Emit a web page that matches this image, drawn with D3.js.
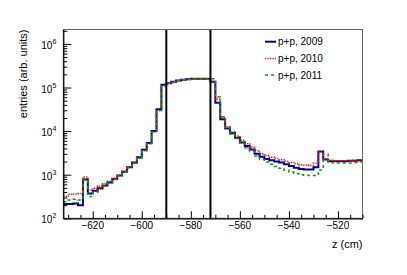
<!DOCTYPE html>
<html>
<head>
<meta charset="utf-8">
<script src="https://cdn.jsdelivr.net/npm/d3@7"></script>
<style>
  body { margin: 0; background: #fff; }
  svg { display: block; font-family: "Liberation Sans", Arial, Helvetica, sans-serif; }
</style>
</head>
<body>
<div id="chart"></div>
<script>
// histogram binning: 2 cm bins starting at z = -632 cm
const bin_start = -632;
const bin_width = 2;

// entries per bin
const pp2009 = [
  214, 214, 219, 200, 776, 372, 427, 490, 562, 661,
  794, 955, 1175, 1479, 1905, 2512, 3715, 5370, 10000, 31600,
  115000, 126000, 135000, 145000, 151000, 155000, 158000, 158000, 158000, 158000,
  135000, 44700, 18600, 11500, 8900, 7080, 5500, 4570, 3800, 3020,
  2570, 2290, 2140, 2000, 1905, 1740, 1585, 1445, 1350, 1320,
  1320, 1480, 3390, 2240, 2040, 2040, 2040, 2040, 2090, 2090,
  2140
];

const pp2010 = [
  316, 355, 363, 372, 891, 447, 490, 550, 617, 708,
  832, 977, 1200, 1480, 1860, 2400, 3550, 5130, 9550, 29500,
  110000, 126000, 135000, 145000, 151000, 155000, 158000, 158000, 158000, 158000,
  138000, 53700, 20900, 12600, 9550, 7760, 6170, 5130, 4270, 3550,
  3020, 2750, 2510, 2340, 2190, 2040, 1905, 1780, 1700, 1660,
  1620, 1820, 3390, 2290, 2140, 2090, 2090, 2090, 2090, 2140,
  2190
];

const pp2011 = [
  240, 263, 275, 263, 759, 316, 398, 468, 550, 646,
  776, 933, 1150, 1445, 1860, 2400, 3550, 5130, 9550, 29500,
  110000, 126000, 135000, 145000, 151000, 155000, 158000, 158000, 158000, 158000,
  158000, 60300, 21400, 12000, 8510, 6760, 5250, 4170, 3390, 2690,
  2240, 1950, 1740, 1550, 1410, 1260, 1150, 1070, 1000, 977,
  955, 955, 1290, 2950, 1905, 1860, 1860, 1860, 1860, 1905,
  1950
];

const series_names = ["p+p, 2009", "p+p, 2010", "p+p, 2011"];
const series_colors = ["#00008f", "#ff0000", "#0a9a0a"];
const series_dash = [null, "1.2,1.3", "3,3"];
const series_widths = [2, 1.5, 1.5];

// vertical marker lines (cm)
const cut_lines = [-590, -572];

const x_ticks = [-620, -600, -580, -560, -540, -520];
const y_ticks = [1e2, 1e3, 1e4, 1e5, 1e6];

const width = 407;
const height = 275;

const frame = { left: 63.3, right: 362.5, top: 29.5, bottom: 218.3 };

const svg = d3.select("#chart")
  .append("svg")
  .attr("width", width)
  .attr("height", height);

svg.append("rect")
  .attr("width", width)
  .attr("height", height)
  .attr("fill", "#fff");

const x = d3.scaleLinear()
  .domain([-632, -510])
  .range([frame.left, frame.right]);

const y = d3.scaleLog()
  .domain([100, 2.14e6])
  .range([frame.bottom, frame.top]);

svg.append("clipPath")
  .attr("id", "clip")
  .append("rect")
  .attr("x", frame.left)
  .attr("y", frame.top)
  .attr("width", frame.right - frame.left)
  .attr("height", frame.bottom - frame.top);

// step outline of a histogram
const hist_points = (vals) => {
  const pts = vals.map((v, i) => [bin_start + i * bin_width, v]);
  pts.push([bin_start + vals.length * bin_width, vals[vals.length - 1]]);
  return pts;
};

const step_line = d3.line()
  .x((d) => x(d[0]))
  .y((d) => y(d[1]))
  .curve(d3.curveStepAfter);

const plot = svg.append("g").attr("clip-path", "url(#clip)");

[pp2009, pp2010, pp2011].forEach((vals, i) => {
  plot.append("path")
    .attr("d", step_line(hist_points(vals)))
    .attr("fill", "none")
    .attr("stroke", series_colors[i])
    .attr("stroke-width", series_widths[i])
    .attr("stroke-dasharray", series_dash[i]);
});

// black cut lines
svg.selectAll("line.cut")
  .data(cut_lines)
  .enter()
  .append("line")
  .attr("class", "cut")
  .attr("x1", (d) => x(d))
  .attr("x2", (d) => x(d))
  .attr("y1", frame.bottom)
  .attr("y2", frame.top)
  .attr("stroke", "#000")
  .attr("stroke-width", 2);

// frame
svg.append("rect")
  .attr("x", frame.left)
  .attr("y", frame.top)
  .attr("width", frame.right - frame.left)
  .attr("height", frame.bottom - frame.top)
  .attr("fill", "none")
  .attr("stroke", "#666")
  .attr("stroke-width", 1);

// x axis: ticks inside, major every 20, minor every 5
const x_axis = d3.axisBottom(x)
  .tickValues(d3.range(-630, -509, 5))
  .tickSize(0)
  .tickFormat("");

const gx = svg.append("g")
  .attr("transform", `translate(0,${frame.bottom})`)
  .call(x_axis);
gx.select(".domain").attr("stroke", "#000").attr("stroke-width", 1.2);

gx.selectAll(".tick line")
  .attr("y2", (d) => x_ticks.includes(d) ? -7 : -3.5)
  .attr("stroke", "#000");

svg.selectAll("text.xlab")
  .data(x_ticks)
  .enter()
  .append("text")
  .attr("class", "xlab")
  .attr("x", (d) => x(d))
  .attr("y", frame.bottom + 11)
  .attr("text-anchor", "middle")
  .attr("font-size", 10)
  .attr("fill", "#000")
  .text((d) => "\u2212" + Math.abs(d));

// y axis: log, ticks inside
const minor_y = [];
for (let e = 2; e <= 6; ++e)
  for (let k = 1; k <= 9; ++k) {
    const v = k * Math.pow(10, e);
    if (v >= 100 && v <= 2.14e6) minor_y.push(v);
  }

const y_axis = d3.axisLeft(y)
  .tickValues(minor_y)
  .tickSize(0)
  .tickFormat("");

const gy = svg.append("g")
  .attr("transform", `translate(${frame.left},0)`)
  .call(y_axis);
gy.select(".domain").attr("stroke", "#000").attr("stroke-width", 1.2);

gy.selectAll(".tick line")
  .attr("x2", (d) => y_ticks.includes(d) ? 8 : 4)
  .attr("stroke", "#000");

const ylab = svg.selectAll("text.ylab")
  .data(y_ticks)
  .enter()
  .append("text")
  .attr("class", "ylab")
  .attr("x", frame.left - 7)
  .attr("y", (d) => y(d) + 5)
  .attr("text-anchor", "end")
  .attr("font-size", 10)
  .attr("fill", "#000");
ylab.append("tspan").text("10");
ylab.append("tspan")
  .attr("dy", -5)
  .attr("font-size", 7)
  .text((d) => Math.round(Math.log10(d)));

// axis titles
svg.append("text")
  .attr("transform", `translate(27,${frame.top}) rotate(-90)`)
  .attr("text-anchor", "end")
  .attr("font-size", 11)
  .attr("fill", "#000")
  .text("entries (arb. units)");

svg.append("text")
  .attr("x", frame.right)
  .attr("y", 248)
  .attr("text-anchor", "end")
  .attr("font-size", 11)
  .attr("fill", "#000")
  .text("z (cm)");

// legend
const legend = svg.append("g");
series_names.forEach((name, i) => {
  const ly = 41.7 + i * 16.7;
  legend.append("line")
    .attr("x1", 265)
    .attr("x2", 276)
    .attr("y1", ly)
    .attr("y2", ly)
    .attr("stroke", series_colors[i])
    .attr("stroke-width", series_widths[i])
    .attr("stroke-dasharray", series_dash[i]);
  legend.append("text")
    .attr("x", 278)
    .attr("y", ly + 3.6)
    .attr("font-size", 10)
    .attr("fill", "#000")
    .text(name);
});
</script>
</body>
</html>
